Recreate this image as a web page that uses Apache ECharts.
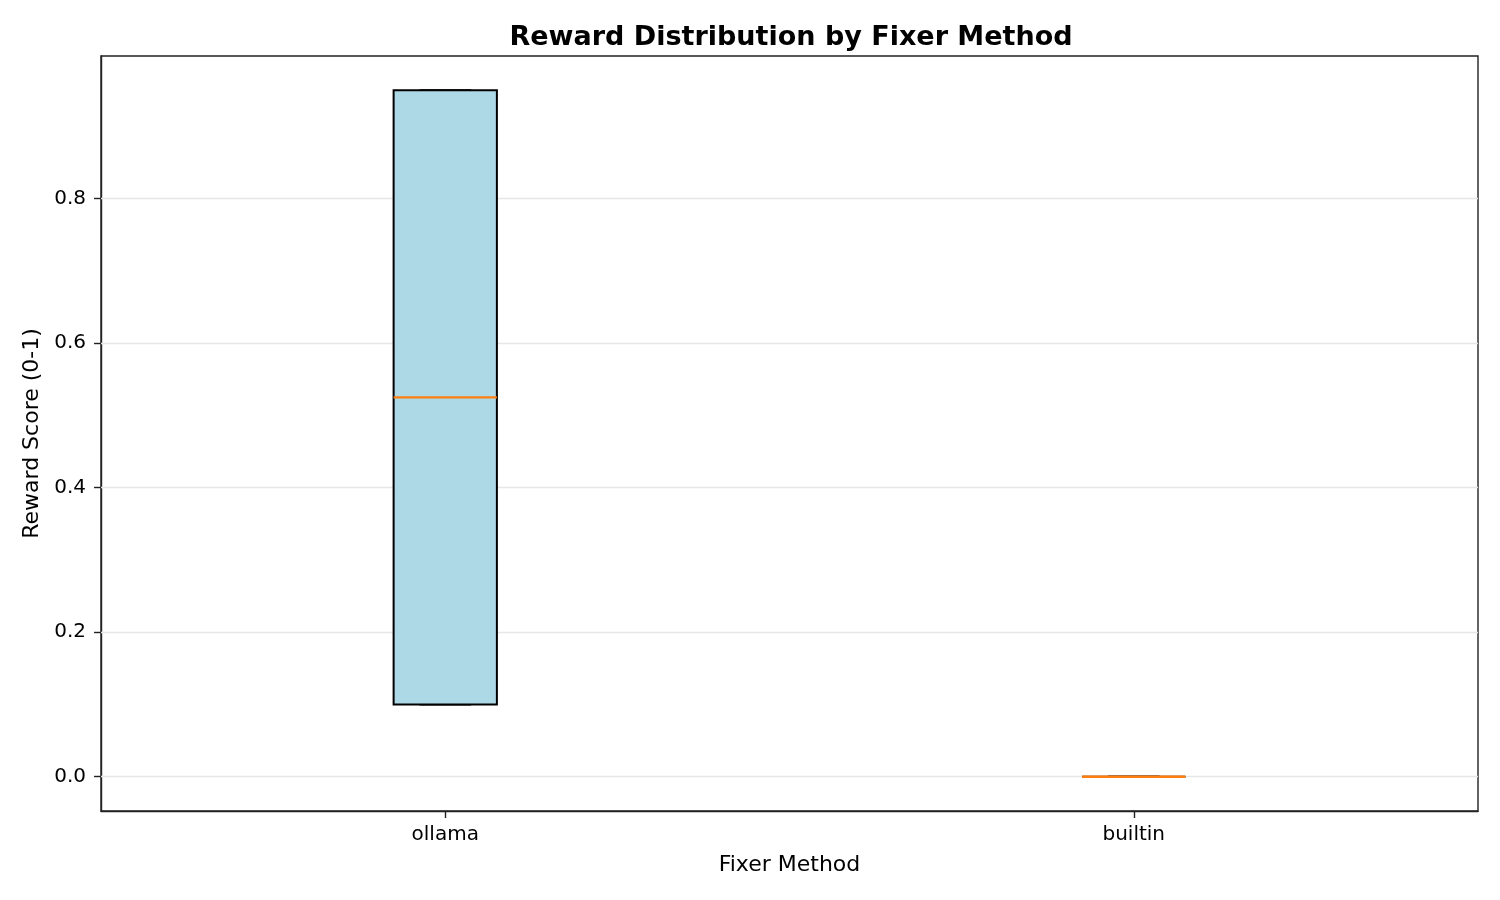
<!DOCTYPE html>
<html>
<head>
<meta charset="utf-8">
<title>Reward Distribution by Fixer Method</title>
<script src="https://cdn.jsdelivr.net/npm/echarts@6/dist/echarts.min.js"></script>
<style>
  html, body { margin: 0; padding: 0; background: #fff; }
  #chart { width: 1500px; height: 900px; }
</style>
</head>
<body>
<div id="chart"></div>
<script>
// box plot stats per fixer method
var categories = ['ollama', 'builtin'];
var whiskerLow = [0.1, 0];
var q1 = [0.1, 0];
var median = [0.525, 0];
var q3 = [0.95, 0];
var whiskerHigh = [0.95, 0];
var yTicks = [0, 0.2, 0.4, 0.6, 0.8];

var font = 'DejaVu Sans';
var chart = echarts.init(document.getElementById('chart'));

var boxData = categories.map(function (c, i) {
    return [i, whiskerLow[i], q1[i], median[i], q3[i], whiskerHigh[i]];
});

function renderBox(params, api) {
    var i = api.value(0);
    var band = api.size([1, 0])[0];
    var half = band * 0.15 / 2;
    var capHalf = half / 2;
    var pLow = api.coord([i, api.value(1)]);
    var pQ1 = api.coord([i, api.value(2)]);
    var pMed = api.coord([i, api.value(3)]);
    var pQ3 = api.coord([i, api.value(4)]);
    var pHigh = api.coord([i, api.value(5)]);
    var x = pQ1[0];
    var black = { stroke: '#000', lineWidth: 2 };
    return {
        type: 'group',
        children: [
            { type: 'line', shape: { x1: x, y1: pQ1[1], x2: x, y2: pLow[1] }, style: black },
            { type: 'line', shape: { x1: x, y1: pQ3[1], x2: x, y2: pHigh[1] }, style: black },
            { type: 'line', shape: { x1: x - capHalf, y1: pLow[1], x2: x + capHalf, y2: pLow[1] }, style: black },
            { type: 'line', shape: { x1: x - capHalf, y1: pHigh[1], x2: x + capHalf, y2: pHigh[1] }, style: black },
            {
                type: 'rect',
                shape: { x: x - half, y: pQ3[1], width: half * 2, height: pQ1[1] - pQ3[1] },
                style: { fill: '#add8e6', stroke: '#000', lineWidth: 2 }
            },
            {
                type: 'line',
                shape: { x1: x - half, y1: pMed[1], x2: x + half, y2: pMed[1] },
                style: { stroke: '#ff7f0e', lineWidth: 2.4 }
            }
        ]
    };
}

var option = {
    animation: false,
    backgroundColor: '#fff',
    title: {
        text: 'Reward Distribution by Fixer Method',
        left: 786,
        top: 19,
        textAlign: 'center',
        textStyle: { fontFamily: font, fontSize: 27, fontWeight: 'bold', color: '#000' }
    },
    grid: {
        left: 101, right: 22, top: 56, bottom: 89,
        show: true, borderColor: '#222', borderWidth: 1.4, backgroundColor: '#fff'
    },
    xAxis: {
        type: 'category',
        data: categories,
        boundaryGap: true,
        name: 'Fixer Method',
        nameLocation: 'middle',
        nameGap: 43,
        nameTextStyle: { fontFamily: font, fontSize: 22, color: '#000' },
        axisLine: { show: true, onZero: false, lineStyle: { color: '#222', width: 1.4 } },
        axisTick: { show: true, alignWithLabel: true, length: 7, lineStyle: { color: '#222', width: 1.4 } },
        axisLabel: { fontFamily: font, fontSize: 20, color: '#000', margin: 14 },
        splitLine: { show: false }
    },
    yAxis: {
        type: 'value',
        min: -0.0475,
        max: 0.9975,
        name: 'Reward Score (0-1)',
        nameLocation: 'middle',
        nameGap: 58,
        nameTextStyle: { fontFamily: font, fontSize: 22, color: '#000' },
        axisLine: { show: true, lineStyle: { color: '#222', width: 1.4 } },
        axisTick: { show: true, length: 7, customValues: yTicks, lineStyle: { color: '#222', width: 1.4 } },
        axisLabel: {
            fontFamily: font, fontSize: 20, color: '#000', margin: 15,
            customValues: yTicks,
            formatter: function (v) { return v.toFixed(1); }
        },
        splitLine: { show: false }
    },
    series: [
        {
            type: 'line',
            data: [],
            z: 1,
            markLine: {
                silent: true,
                z: 1,
                symbol: 'none',
                label: { show: false },
                lineStyle: { color: '#e6e6e6', width: 1.4, type: 'solid' },
                data: yTicks.map(function (t) { return { yAxis: t }; })
            }
        },
        {
            type: 'custom',
            renderItem: renderBox,
            data: boxData,
            encode: { x: 0, y: [1, 2, 3, 4, 5] },
            z: 10
        }
    ]
};

chart.setOption(option);
</script>
</body>
</html>
